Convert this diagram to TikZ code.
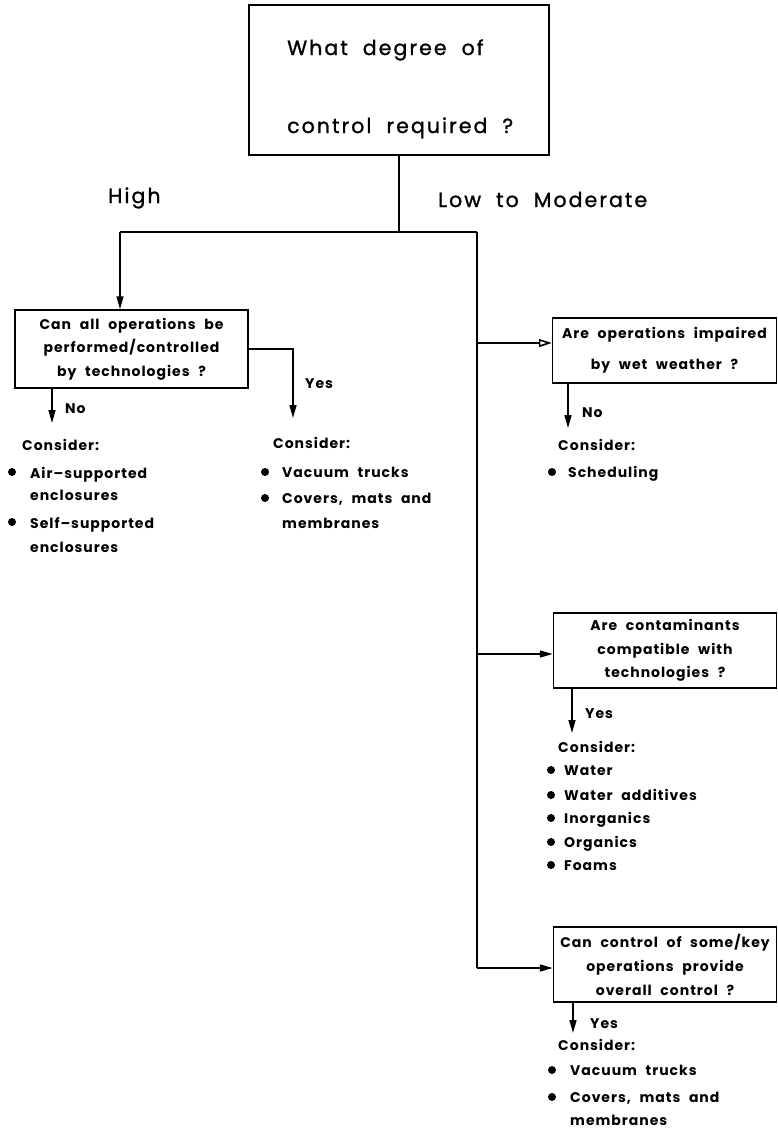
\documentclass[tikz,border=0pt]{standalone}
\usepackage{fontspec}
\setmainfont[LetterSpace=7, WordSpace=2.2]{Poppins}
\newfontfamily\topfont[LetterSpace=10, WordSpace=2, FakeBold=1.2]{Poppins}
\usetikzlibrary{arrows.meta}
\begin{document}
\begin{tikzpicture}[x=1pt,y=-1pt,
  box/.style={draw, line width=1.5pt, inner sep=0pt},
  ln/.style={line width=1.6pt},
  arr/.style={ln, -{Triangle[length=13pt,width=7pt]}},
  oarr/.style={ln, -{Triangle[open,length=13pt,width=8pt]}},
  sm/.style={font=\fontsize{14}{17}\selectfont\bfseries, inner sep=0pt, anchor=base west},
  bg/.style={font=\fontsize{20.5}{23}\selectfont\topfont, inner sep=0pt, anchor=base west},
  boxtxt/.style={box, align=center},
]
\path[fill=white, use as bounding box] (0,0) rectangle (778,1128);

% top question
\node[box, minimum width=300pt, minimum height=150pt] (q0) at (399,80) {};
\node[bg] (q0a) at (287,55) {What degree of};
\node[bg] (q0b) at (287,133) {control required ?};
\node[bg] (high) at (108,203) {High};
\node[bg] (low) at (438,207) {Low to Moderate};

\coordinate (j) at (399,232);
\coordinate (jl) at (120,232);
\coordinate (jr) at (477,232);
\coordinate (jb) at (477,968);

% boxes
\node[boxtxt, minimum width=233pt, minimum height=78pt, font=\fontsize{14}{23.5}\selectfont\bfseries] (q1) at (131.5,349) {Can all operations be\\performed/controlled\\by technologies ?};
\node[boxtxt, minimum width=224pt, minimum height=65pt, font=\fontsize{14}{31}\selectfont\bfseries] (q2) at (664.5,350.5) {Are operations impaired\\by wet weather ?};
\node[boxtxt, minimum width=223pt, minimum height=75pt, font=\fontsize{14}{23.5}\selectfont\bfseries] (q3) at (665,650.5) {Are contaminants\\compatible with\\technologies ?};
\node[boxtxt, minimum width=223pt, minimum height=75pt, font=\fontsize{14}{24}\selectfont\bfseries] (q4) at (665,964.5) {Can control of some/key\\operations provide\\overall control ?};

% main connectors
\draw[ln] (q0.south) -- (j);
\draw[ln] (jl) -- (jr);
\draw[arr] (jl) -- (jl |- q1.north);
\draw[ln] (jr) -- (jb);

\coordinate (b1) at (477,343);
\coordinate (b2) at (477,654);
\draw[oarr] (b1) -- (b1 -| q2.west);
\draw[arr] (b2) -- (b2 -| q3.west);
\draw[arr] (jb) -- (jb -| q4.west);

% q1 outputs
\coordinate (y1a) at (248,349);
\coordinate (y1b) at (293,349);
\coordinate (y1c) at (293,418);
\draw[arr] (q1.east |- y1a) -- (y1b) -- (y1c);
\node[sm] (yes1) at (305,388) {Yes};
\coordinate (n1) at (52,423);
\draw[arr] (q1.south -| n1) -- (n1);
\node[sm] (no1) at (65,413) {No};

% left list
\node[sm] (c1) at (22,450) {Consider:};
\node[sm] (l1a) at (30,478) {Air--supported};
\node[sm] (l1b) at (30,500) {enclosures};
\node[sm] (l1c) at (30,528) {Self--supported};
\node[sm] (l1d) at (30,552) {enclosures};
\fill (12,472) circle (4) (12,522) circle (4);

% middle list
\node[sm] (c2) at (273,448) {Consider:};
\node[sm] (m1a) at (282,477) {Vacuum trucks};
\node[sm] (m1b) at (282,503) {Covers, mats and};
\node[sm] (m1c) at (282,528) {membranes};
\fill (265,472) circle (4) (265,498) circle (4);

% q2 outputs
\coordinate (n2) at (568,428);
\draw[arr] (q2.south -| n2) -- (n2);
\node[sm] (no2) at (582,417) {No};
\node[sm] (c3) at (558,450) {Consider:};
\node[sm] (r1a) at (568,477) {Scheduling};
\fill (552,472) circle (4);

% q3 outputs
\coordinate (y3) at (572,733);
\draw[arr] (q3.south -| y3) -- (y3);
\node[sm] (yes3) at (585,718) {Yes};
\node[sm] (c4) at (558,752) {Consider:};
\node[sm] (r2a) at (564,775) {Water};
\node[sm] (r2b) at (564,800) {Water additives};
\node[sm] (r2c) at (564,823) {Inorganics};
\node[sm] (r2d) at (564,847) {Organics};
\node[sm] (r2e) at (564,870) {Foams};
\fill (551,770) circle (4) (551,795) circle (4) (551,818) circle (4) (551,842) circle (4) (551,865) circle (4);

% q4 outputs
\coordinate (y4) at (573,1033);
\draw[arr] (q4.south -| y4) -- (y4);
\node[sm] (yes4) at (590,1028) {Yes};
\node[sm] (c5) at (558,1050) {Consider:};
\node[sm] (r3a) at (570,1075) {Vacuum trucks};
\node[sm] (r3b) at (570,1102) {Covers, mats and};
\node[sm] (r3c) at (570,1125) {membranes};
\fill (552,1070) circle (4) (552,1097) circle (4);
\end{tikzpicture}
\end{document}
